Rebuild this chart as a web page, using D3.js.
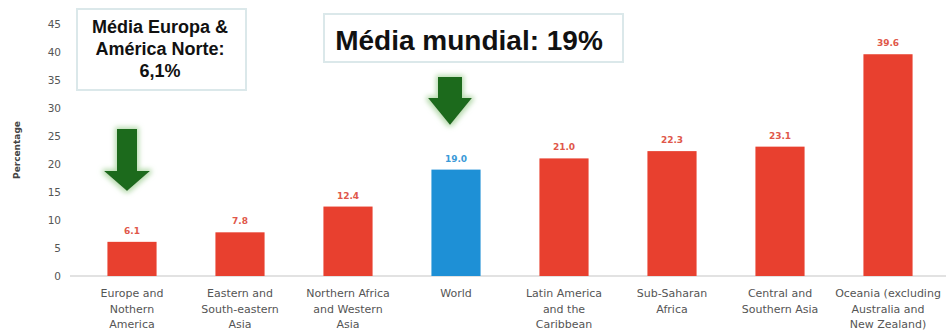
<!DOCTYPE html>
<html>
<head>
<meta charset="utf-8">
<script src="https://cdn.jsdelivr.net/npm/d3@7"></script>
<style>
  html, body { margin: 0; padding: 0; background: #fff; }
  svg { display: block; }
</style>
</head>
<body>
<svg id="chart" width="946" height="333"></svg>
<script>
// Regions and their percentages
const categories = [
  "Europe and\nNothern\nAmerica",
  "Eastern and\nSouth-eastern\nAsia",
  "Northern Africa\nand Western\nAsia",
  "World",
  "Latin America\nand the\nCaribbean",
  "Sub-Saharan\nAfrica",
  "Central and\nSouthern Asia",
  "Oceania (excluding\nAustralia and\nNew Zealand)"
];
const values = [6.1, 7.8, 12.4, 19.0, 21.0, 22.3, 23.1, 39.6];
const highlight = ["World"];
const yTicks = [0, 5, 10, 15, 20, 25, 30, 35, 40, 45];
const yLabel = "Percentage";

// Callout texts
const noteEurope = ["Média Europa &", "América Norte:", "6,1%"];
const noteWorld = "Média mundial: 19%";

const RED = "#e8402f", BLUE = "#1e90d6";
const RED_TXT = "#e0574a", BLUE_TXT = "#3b9ad8";

const svg = d3.select("#chart");

const x = d3.scaleBand()
  .domain(categories)
  .range([78, 942])
  .paddingInner(0.545)
  .paddingOuter(0.2725);

const y = d3.scaleLinear().domain([0, 45]).range([276, 24]);

// Glow for the arrows
const defs = svg.append("defs");
const glow = defs.append("filter").attr("id", "glow")
  .attr("x", "-50%").attr("y", "-50%").attr("width", "200%").attr("height", "200%");
glow.append("feMorphology").attr("in", "SourceAlpha").attr("operator", "dilate").attr("radius", 2).attr("result", "d");
glow.append("feGaussianBlur").attr("in", "d").attr("stdDeviation", 2.5).attr("result", "b");
glow.append("feFlood").attr("flood-color", "#b9dcb0").attr("result", "c");
glow.append("feComposite").attr("in", "c").attr("in2", "b").attr("operator", "in").attr("result", "g");
const merge = glow.append("feMerge");
merge.append("feMergeNode").attr("in", "g");
merge.append("feMergeNode").attr("in", "SourceGraphic");

// Y axis tick labels
const yAxis = d3.axisLeft(y).tickValues(yTicks).tickSize(0).tickPadding(0);
const yg = svg.append("g").attr("transform", "translate(61,0)").call(yAxis);
yg.select(".domain").remove();
yg.selectAll("text")
  .attr("font-family", "DejaVu Sans, sans-serif")
  .attr("font-size", 10.5)
  .attr("fill", "#555");

svg.append("text")
  .attr("transform", `translate(20,${y(22.5)}) rotate(-90)`)
  .attr("text-anchor", "middle")
  .attr("font-family", "DejaVu Sans, sans-serif")
  .attr("font-weight", "bold")
  .attr("font-size", 9)
  .attr("fill", "#444")
  .text(yLabel);

// Baseline
svg.append("line")
  .attr("x1", 70).attr("x2", 946)
  .attr("y1", y(0)).attr("y2", y(0))
  .attr("stroke", "#d8d8d8").attr("stroke-width", 1.5);

// Bars
const data = categories.map((c, i) => ({ c, v: values[i] }));
svg.append("g").selectAll("rect").data(data).join("rect")
  .attr("x", d => x(d.c))
  .attr("width", x.bandwidth())
  .attr("y", d => y(d.v))
  .attr("height", d => y(0) - y(d.v))
  .attr("fill", d => highlight.includes(d.c) ? BLUE : RED);

// Value labels
svg.append("g").selectAll("text").data(data).join("text")
  .attr("x", d => x(d.c) + x.bandwidth() / 2)
  .attr("y", d => y(d.v) - 8)
  .attr("text-anchor", "middle")
  .attr("font-family", "DejaVu Sans, sans-serif")
  .attr("font-weight", "bold")
  .attr("font-size", 9)
  .attr("fill", d => highlight.includes(d.c) ? BLUE_TXT : RED_TXT)
  .text(d => d.v.toFixed(1));

// Category labels (three lines at most)
const xAxis = d3.axisBottom(x).tickSize(0).tickFormat("");
const xg = svg.append("g").attr("transform", `translate(0,${y(0)})`).call(xAxis);
xg.select(".domain").remove();
xg.selectAll(".tick").each(function (c) {
  const t = d3.select(this).append("text")
    .attr("text-anchor", "middle")
    .attr("font-family", "DejaVu Sans, sans-serif")
    .attr("font-size", 11)
    .attr("fill", "#555");
  c.split("\n").forEach((line, i) => {
    t.append("tspan").attr("x", 0).attr("y", 21 + i * 15.5).text(line);
  });
});

// Arrows pointing down at a bar
function arrow(cx, top, neck, tip, shaftW, headW) {
  const p = d3.path();
  p.moveTo(cx - shaftW / 2, top);
  p.lineTo(cx + shaftW / 2, top);
  p.lineTo(cx + shaftW / 2, neck);
  p.lineTo(cx + headW / 2, neck);
  p.lineTo(cx, tip);
  p.lineTo(cx - headW / 2, neck);
  p.lineTo(cx - shaftW / 2, neck);
  p.closePath();
  svg.append("path").attr("d", p.toString())
    .attr("fill", "#1b6b1c")
    .attr("filter", "url(#glow)");
}
const c0 = x(categories[0]) + x.bandwidth() / 2;
const c3 = x(categories[3]) + x.bandwidth() / 2;
arrow(c0 - 5, 129, 171, 191, 20, 46);
arrow(c3 - 6, 77, 98, 125, 24, 44);

// Callout boxes
function box(x0, y0, w, h) {
  svg.append("rect")
    .attr("x", x0).attr("y", y0).attr("width", w).attr("height", h)
    .attr("fill", "#fff")
    .attr("stroke", "#dbe8ea").attr("stroke-width", 2);
}
box(77, 9, 169, 81);
const t1 = svg.append("text")
  .attr("text-anchor", "middle")
  .attr("font-family", "Liberation Sans, Arial, sans-serif")
  .attr("font-weight", "bold")
  .attr("font-size", 18)
  .attr("fill", "#111");
noteEurope.forEach((line, i) => {
  t1.append("tspan").attr("x", 160).attr("y", 33 + i * 22).text(line);
});

box(324, 14, 299, 48);
svg.append("text")
  .attr("x", 469).attr("y", 50)
  .attr("text-anchor", "middle")
  .attr("font-family", "Liberation Sans, Arial, sans-serif")
  .attr("font-weight", "bold")
  .attr("font-size", 28)
  .attr("fill", "#111")
  .text(noteWorld);
</script>
</body>
</html>
